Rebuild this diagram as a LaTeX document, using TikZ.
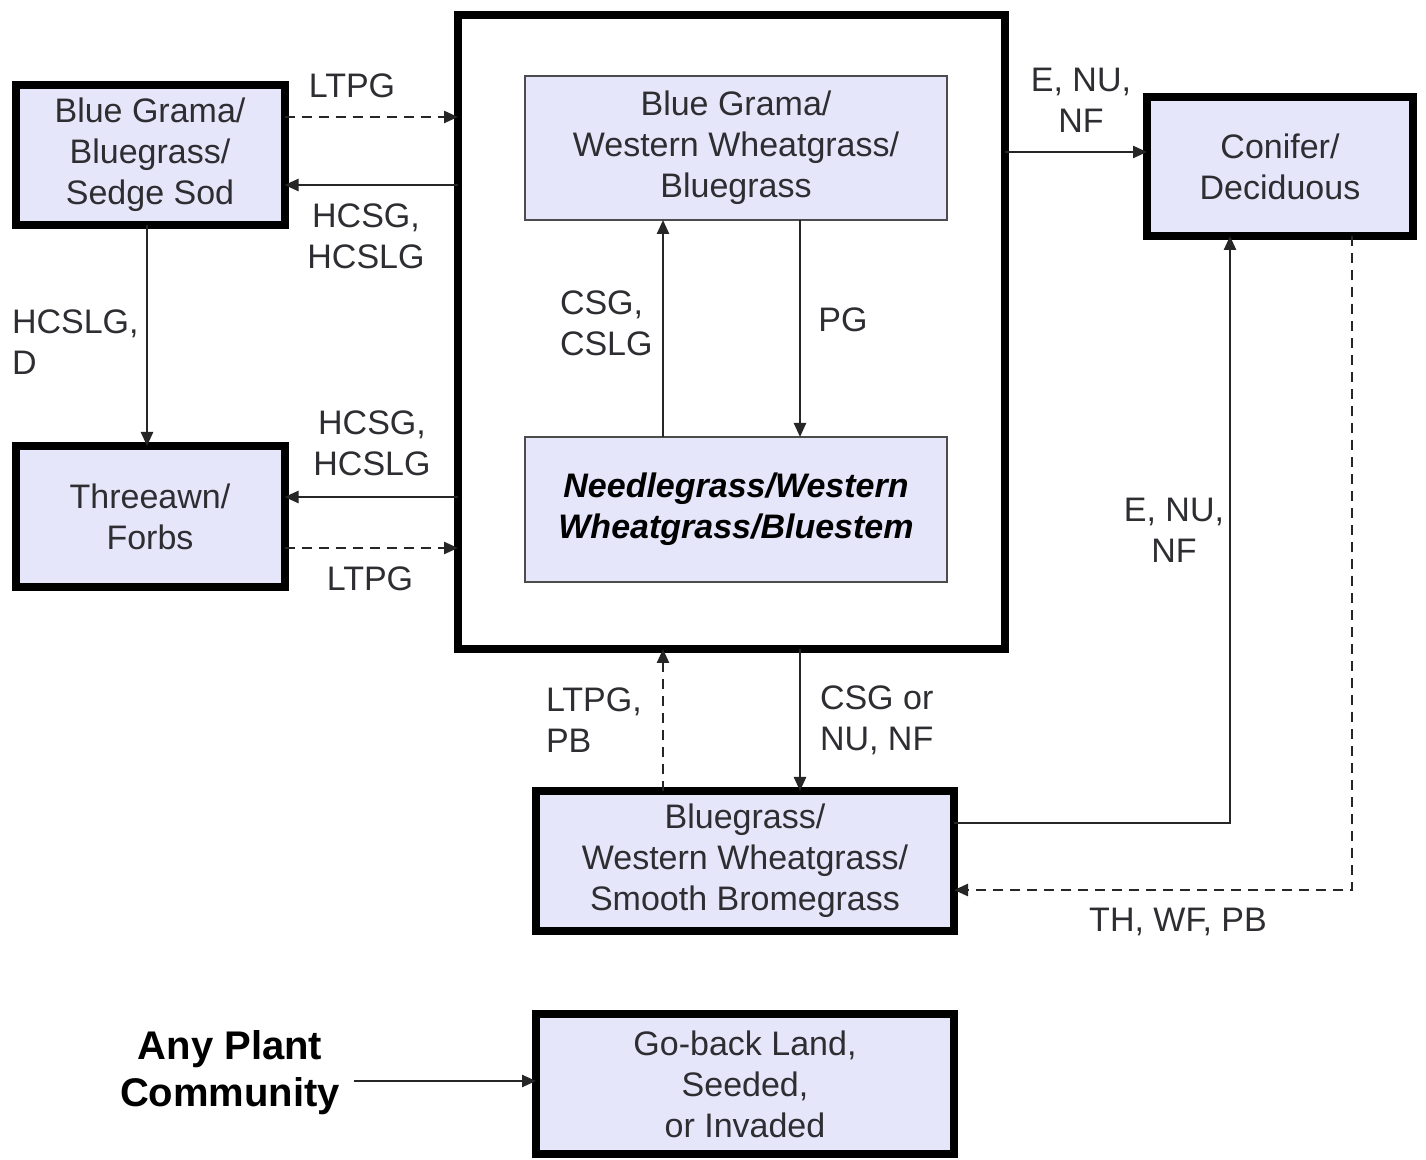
\documentclass[tikz,border=0pt]{standalone}
\usepackage{fontspec}
\setmainfont{Liberation Sans}
\usetikzlibrary{arrows.meta}
\definecolor{boxfill}{RGB}{230,230,250}
\definecolor{txt}{RGB}{45,45,50}
\begin{document}
\begin{tikzpicture}[x=0.5pt,y=-0.5pt,
  base/.style={align=center, inner sep=0pt, outer sep=0pt, text=txt, font=\fontsize{17}{20.5}\selectfont},
  outerbox/.style={base, draw=black, line width=4pt, fill=boxfill},
  innerbox/.style={base, draw=black!70, line width=1.2pt, fill=boxfill},
  bigbox/.style={draw=black, line width=4pt, fill=white, inner sep=0pt, outer sep=0pt},
  lbl/.style={base},
  arr/.style={-{Triangle[length=7pt,width=6pt]}, line width=1.2pt, draw=black!85},
  dsh/.style={arr, dash pattern=on 5pt off 3.5pt}]
\useasboundingbox (0,0) rectangle (1426,1160);
\fill[white] (0,0) rectangle (1426,1160);

% boxes
\node[bigbox, minimum width=273.5pt, minimum height=317pt] (big) at (731.5,332) {};
\node[innerbox, minimum width=211pt, minimum height=72pt] (top) at (736,148) {Blue Grama/\\Western Wheatgrass/\\Bluegrass};
\node[innerbox, minimum width=211pt, minimum height=72.5pt, font=\fontsize{17}{20.5}\selectfont\bfseries\itshape, text=black] (needle) at (736,509.5) {Needlegrass/Western\\Wheatgrass/Bluestem};
\node[outerbox, minimum width=134.5pt, minimum height=70pt] (A) at (150,155) {Blue Grama/\\Bluegrass/\\Sedge Sod};
\node[outerbox, minimum width=134.5pt, minimum height=70.5pt] (three) at (150,516.5) {Threeawn/\\Forbs};
\node[outerbox, minimum width=133pt, minimum height=69.5pt] (con) at (1280,166.5) {Conifer/\\Deciduous};
\node[outerbox, minimum width=209pt, minimum height=70pt] (blue) at (745,861) {Bluegrass/\\Western Wheatgrass/\\Smooth Bromegrass};
\node[outerbox, minimum width=209pt, minimum height=70pt] (go) at (745,1084) {Go-back Land,\\Seeded,\\or Invaded};
\node[base, text=black, font=\fontsize{20}{23.5}\selectfont\bfseries] (any) at (230,1073) {Any Plant\\Community};

% helper coordinates
\coordinate (y117) at (0,117);
\coordinate (y185) at (0,185);
\coordinate (x147) at (147,0);
\coordinate (y497) at (0,497);
\coordinate (y548) at (0,548);
\coordinate (x663) at (663,0);
\coordinate (x800) at (800,0);
\coordinate (y152) at (0,152);
\coordinate (y823) at (0,823);
\coordinate (x1230) at (1230,0);
\coordinate (x1352) at (1352,0);
\coordinate (y890) at (0,890);
\coordinate (y1081) at (0,1081);
\coordinate (c1) at (1230,823);
\coordinate (c2) at (1352,890);

% connectors
\draw[dsh] (A.east |- y117) -- (big.west |- y117);
\draw[arr] (big.west |- y185) -- (A.east |- y185);
\draw[arr] (A.south -| x147) -- (three.north -| x147);
\draw[arr] (big.west |- y497) -- (three.east |- y497);
\draw[dsh] (three.east |- y548) -- (big.west |- y548);
\draw[arr] (needle.north -| x663) -- (top.south -| x663);
\draw[arr] (top.south -| x800) -- (needle.north -| x800);
\draw[arr] (big.east |- y152) -- (con.west |- y152);
\draw[arr] (blue.east |- y823) -- (c1) -- (con.south -| x1230);
\draw[dsh] (con.south -| x1352) -- (c2) -- (blue.east |- y890);
\draw[dsh] (blue.north -| x663) -- (big.south -| x663);
\draw[arr] (big.south -| x800) -- (blue.north -| x800);
\draw[arr] (any.east |- y1081) ++(14,0) coordinate (anyout) (anyout) -- (go.west |- y1081);

% labels
\node[lbl] (l1) at (352,86) {LTPG};
\node[lbl] (l2) at (366,236) {HCSG,\\HCSLG};
\node[lbl, anchor=west, align=left] (l3) at (12,342) {HCSLG,\\D};
\node[lbl] (l4) at (372,443) {HCSG,\\HCSLG};
\node[lbl] (l5) at (370,579) {LTPG};
\node[lbl, anchor=west, align=left] (l6) at (560,323) {CSG,\\CSLG};
\node[lbl] (l7) at (843,320) {PG};
\node[lbl] (l8) at (1081,100) {E, NU,\\NF};
\node[lbl] (l9) at (1174,530) {E, NU,\\NF};
\node[lbl] (l10) at (1178,922) {TH, WF, PB};
\node[lbl, anchor=west, align=left] (l11) at (546,720) {LTPG,\\PB};
\node[lbl, anchor=west, align=left] (l12) at (820,720) {CSG or\\NU, NF};
\end{tikzpicture}
\end{document}
